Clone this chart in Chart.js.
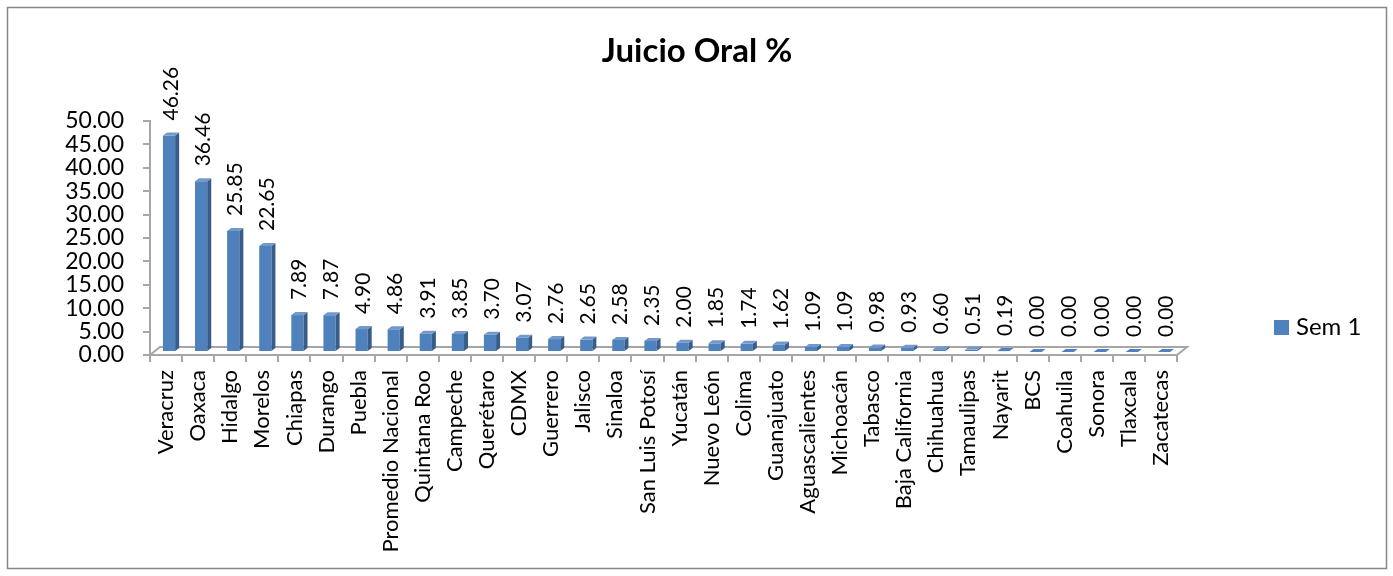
<!DOCTYPE html>
<html>
<head>
<meta charset="utf-8">
<script src="https://cdn.jsdelivr.net/npm/chart.js@4.4.1/dist/chart.umd.min.js"></script>
<style>
  html, body { margin: 0; padding: 0; background: #fff; }
  #wrap { position: relative; width: 1393px; height: 576px; }
</style>
</head>
<body>
<div id="wrap"><canvas id="chart" width="1393" height="576"></canvas></div>
<script>
var estados = ["Veracruz", "Oaxaca", "Hidalgo", "Morelos", "Chiapas", "Durango", "Puebla",
  "Promedio Nacional", "Quintana Roo", "Campeche", "Querétaro", "CDMX", "Guerrero", "Jalisco",
  "Sinaloa", "San Luis Potosí", "Yucatán", "Nuevo León", "Colima", "Guanajuato",
  "Aguascalientes", "Michoacán", "Tabasco", "Baja California", "Chihuahua", "Tamaulipas",
  "Nayarit", "BCS", "Coahuila", "Sonora", "Tlaxcala", "Zacatecas"];
var sem1 = [46.26, 36.46, 25.85, 22.65, 7.89, 7.87, 4.90, 4.86, 3.91, 3.85, 3.70, 3.07, 2.76,
  2.65, 2.58, 2.35, 2.00, 1.85, 1.74, 1.62, 1.09, 1.09, 0.98, 0.93, 0.60, 0.51, 0.19,
  0.00, 0.00, 0.00, 0.00, 0.00];
var yTicks = [0, 5, 10, 15, 20, 25, 30, 35, 40, 45, 50];

var FONT = 'Lato, "Liberation Sans", sans-serif';
var azul = '#4F81BD', azulLado = '#385D8A', azulTop = '#7399CB', gris = '#A6A6A6';

// bars are shifted back into the 3D floor
var off = 3, depX = 4, depY = 3, floorX = 10, floorY = 8;

var plugin3d = {
  id: 'plugin3d',
  beforeDraw: function(chart) {
    var c = chart.ctx;
    c.save();
    c.fillStyle = '#fff';
    c.fillRect(0, 0, chart.width, chart.height);
    c.strokeStyle = '#868686';
    c.lineWidth = 1.5;
    c.strokeRect(7.5, 7.5, 1379, 561);
    c.restore();
  },
  beforeDatasetsDraw: function(chart) {
    var c = chart.ctx, a = chart.chartArea;
    c.save();
    c.strokeStyle = gris;
    c.lineWidth = 2;
    c.beginPath();
    c.moveTo(a.left, a.bottom);
    c.lineTo(a.right, a.bottom);
    c.lineTo(a.right + floorX, a.bottom - floorY);
    c.lineTo(a.left + floorX, a.bottom - floorY);
    c.closePath();
    c.stroke();
    c.restore();
    c.save();
    c.translate(off, -off);
  },
  afterDatasetsDraw: function(chart) {
    var c = chart.ctx;
    var meta = chart.getDatasetMeta(0);
    meta.data.forEach(function(el) {
      var p = el.getProps(['x', 'y', 'base', 'width'], true);
      var l = p.x - p.width / 2, r = p.x + p.width / 2;
      // side
      c.fillStyle = azulLado;
      c.beginPath();
      c.moveTo(r, p.base);
      c.lineTo(r + depX, p.base - depY);
      c.lineTo(r + depX, p.y - depY);
      c.lineTo(r, p.y);
      c.closePath();
      c.fill();
      // top
      c.fillStyle = p.base - p.y < 1 ? azul : azulTop;
      c.beginPath();
      c.moveTo(l, p.y);
      c.lineTo(r, p.y);
      c.lineTo(r + depX, p.y - depY);
      c.lineTo(l + depX, p.y - depY);
      c.closePath();
      c.fill();
    });
    c.restore();

    // value labels
    c.save();
    c.fillStyle = '#000';
    c.font = '21px ' + FONT;
    c.textAlign = 'left';
    c.textBaseline = 'middle';
    meta.data.forEach(function(el, i) {
      var p = el.getProps(['x', 'y'], true);
      c.save();
      c.translate(p.x + 5, p.y - off - 15);
      c.rotate(-Math.PI / 2);
      c.fillText(sem1[i].toFixed(2), 0, 0);
      c.restore();
    });
    c.restore();
  },
  afterDraw: function(chart) {
    var c = chart.ctx;
    c.save();
    c.fillStyle = '#000';
    c.font = 'bold 33px ' + FONT;
    c.textAlign = 'center';
    c.textBaseline = 'alphabetic';
    c.fillText('Juicio Oral %', 697, 62);
    // legend
    c.fillStyle = azul;
    c.fillRect(1274, 320, 15, 15);
    c.fillStyle = '#000';
    c.font = '24px ' + FONT;
    c.textAlign = 'left';
    c.fillText('Sem 1', 1296, 335);
    c.restore();
  }
};

var ctx = document.getElementById('chart').getContext('2d');
var chart = new Chart(ctx, {
  type: 'bar',
  data: {
    labels: estados,
    datasets: [{
      label: 'Sem 1',
      data: sem1,
      backgroundColor: azul,
      borderWidth: 0,
      categoryPercentage: 1,
      barPercentage: 0.38
    }]
  },
  options: {
    responsive: false,
    animation: false,
    layout: { padding: { left: 0, top: 121, right: 216, bottom: 0 } },
    plugins: {
      legend: { display: false },
      title: { display: false },
      tooltip: { enabled: false }
    },
    scales: {
      x: {
        grid: { display: true, drawOnChartArea: false, offset: true, tickLength: 7, color: gris, lineWidth: 2 },
        border: { display: true, color: gris, width: 2 },
        ticks: {
          autoSkip: false, minRotation: 90, maxRotation: 90, padding: 8,
          color: '#000', font: { family: FONT, size: 22 }
        },
        afterFit: function(s) { s.height = 221; }
      },
      y: {
        min: 0, max: 50,
        afterBuildTicks: function(s) { s.ticks = yTicks.map(function(v) { return { value: v }; }); },
        grid: { display: true, drawOnChartArea: false, tickLength: 7, color: gris, lineWidth: 2 },
        border: { display: true, color: gris, width: 2 },
        ticks: {
          autoSkip: false, padding: 19, color: '#000', font: { family: FONT, size: 23 },
          callback: function(v) { return Number(v).toFixed(2); }
        },
        afterFit: function(s) { s.width = 150; }
      }
    }
  },
  plugins: [plugin3d]
});
</script>
</body>
</html>
